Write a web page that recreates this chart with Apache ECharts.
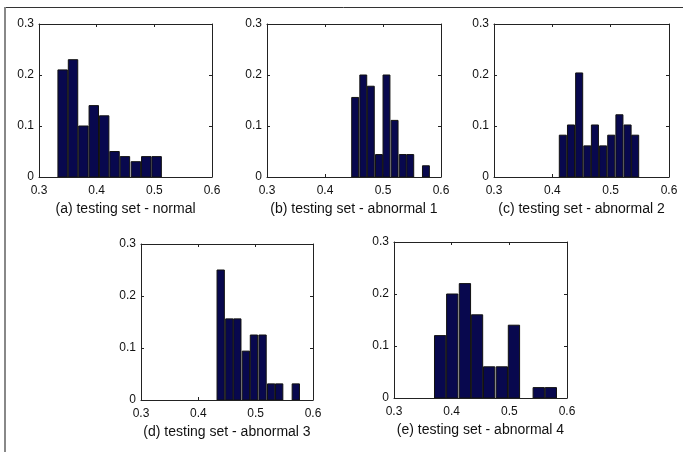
<!DOCTYPE html>
<html>
<head>
<meta charset="utf-8">
<script src="https://cdn.jsdelivr.net/npm/echarts@6/dist/echarts.min.js"></script>
<style>
html,body{margin:0;padding:0;background:#fff;}
#chart{width:683px;height:452px;}
</style>
</head>
<body>
<div id="chart"></div>
<script>
// Tick labels
const xTickLabels = ['0.3', '0.4', '0.5', '0.6'];
const yTickLabels = ['0', '0.1', '0.2', '0.3'];

// Captions
const captions = [
  '(a) testing set - normal',
  '(b) testing set - abnormal 1',
  '(c) testing set - abnormal 2',
  '(d) testing set - abnormal 3',
  '(e) testing set - abnormal 4'
];

// Histogram bin centers, bin widths and frequencies
const binsA = [0.341, 0.359, 0.377, 0.395, 0.413, 0.431, 0.449, 0.468, 0.486, 0.504];
const valuesA = [0.21, 0.23, 0.10, 0.14, 0.12, 0.05, 0.04, 0.03, 0.04, 0.04];
const binWidthA = 0.0181;

const binsB = [0.452, 0.466, 0.479, 0.493, 0.506, 0.520, 0.534, 0.547, 0.561, 0.574];
const valuesB = [0.156, 0.200, 0.178, 0.044, 0.200, 0.111, 0.044, 0.044, 0, 0.022];
const binWidthB = 0.0136;

const binsC = [0.418, 0.432, 0.446, 0.460, 0.473, 0.487, 0.501, 0.515, 0.529, 0.542];
const valuesC = [0.082, 0.102, 0.204, 0.061, 0.102, 0.061, 0.082, 0.122, 0.102, 0.082];
const binWidthC = 0.0138;

const binsD = [0.439, 0.454, 0.468, 0.483, 0.497, 0.512, 0.527, 0.541, 0.556, 0.570];
const valuesD = [0.250, 0.156, 0.156, 0.094, 0.125, 0.125, 0.031, 0.031, 0, 0.031];
const binWidthD = 0.0145;

const binsE = [0.380, 0.401, 0.423, 0.444, 0.465, 0.487, 0.508, 0.529, 0.551, 0.572];
const valuesE = [0.12, 0.20, 0.22, 0.16, 0.06, 0.06, 0.14, 0, 0.02, 0.02];
const binWidthE = 0.0213;

const panels = [
  {bins: binsA, values: valuesA, w: binWidthA},
  {bins: binsB, values: valuesB, w: binWidthB},
  {bins: binsC, values: valuesC, w: binWidthC},
  {bins: binsD, values: valuesD, w: binWidthD},
  {bins: binsE, values: valuesE, w: binWidthE}
];

// Layout (pixels)
const gridBoxes = [
  {left: 39, top: 24, width: 173, height: 153},
  {left: 267, top: 24, width: 174, height: 153},
  {left: 494, top: 24, width: 175, height: 153},
  {left: 141, top: 244, width: 172, height: 156},
  {left: 394, top: 242, width: 173, height: 156}
];

const FONT = 'Liberation Sans, Arial, Helvetica, sans-serif';
const AXIS_COLOR = '#222';

const grids = [], xAxes = [], yAxes = [], series = [];
panels.forEach(function (p, i) {
  grids.push(Object.assign({show: false}, gridBoxes[i]));
  const xBase = {
    type: 'value', gridIndex: i, min: 0.3, max: 0.6, interval: 0.1,
    splitLine: {show: false},
    axisLine: {show: true, onZero: false, lineStyle: {color: AXIS_COLOR, width: 1}},
    axisTick: {show: true, inside: true, length: 3, lineStyle: {color: AXIS_COLOR}}
  };
  const yBase = {
    type: 'value', gridIndex: i, min: 0, max: 0.3, interval: 0.1,
    splitLine: {show: false},
    axisLine: {show: true, onZero: false, lineStyle: {color: AXIS_COLOR, width: 1}},
    axisTick: {show: true, inside: true, length: 3, lineStyle: {color: AXIS_COLOR}}
  };
  xAxes.push(Object.assign({}, xBase, {
    position: 'bottom',
    axisLabel: {
      show: true, margin: 8, fontSize: 12, color: '#111', fontFamily: FONT,
      formatter: function (v) { return xTickLabels[Math.round((v - 0.3) * 10)]; }
    },
    name: captions[i], nameLocation: 'middle', nameGap: 25,
    nameTextStyle: {fontSize: 14, color: '#111', fontFamily: FONT}
  }));
  xAxes.push(Object.assign({}, xBase, {position: 'top', axisLabel: {show: false}}));
  yAxes.push(Object.assign({}, yBase, {
    position: 'left',
    axisLabel: {
      show: true, margin: 5, fontSize: 12, color: '#111', fontFamily: FONT,
      formatter: function (v) { return yTickLabels[Math.round(v * 10)]; }
    }
  }));
  yAxes.push(Object.assign({}, yBase, {position: 'right', axisLabel: {show: false}}));

  const data = p.bins.map(function (b, k) { return [b, p.values[k]]; });
  const w = p.w;
  series.push({
    type: 'custom',
    xAxisIndex: 2 * i,
    yAxisIndex: 2 * i,
    data: data,
    clip: true,
    renderItem: function (params, api) {
      const c = api.value(0), v = api.value(1);
      if (!v) return null;
      const tl = api.coord([c - w / 2, v]);
      const br = api.coord([c + w / 2, 0]);
      return {
        type: 'rect',
        shape: {x: tl[0] + 0.5, y: tl[1], width: br[0] - tl[0] - 1, height: br[1] - tl[1]},
        style: {fill: '#08084e', stroke: '#111', lineWidth: 1}
      };
    }
  });
});

const chart = echarts.init(document.getElementById('chart'), null, {renderer: 'canvas'});
chart.setOption({
  animation: false,
  backgroundColor: '#fff',
  grid: grids,
  xAxis: xAxes,
  yAxis: yAxes,
  series: series,
  graphic: [
    {type: 'line', shape: {x1: 4, y1: 7.5, x2: 683, y2: 7.5}, style: {stroke: '#333', lineWidth: 1}},
    {type: 'line', shape: {x1: 5, y1: 7, x2: 5, y2: 452}, style: {stroke: '#888', lineWidth: 2}}
  ]
});
</script>
</body>
</html>
